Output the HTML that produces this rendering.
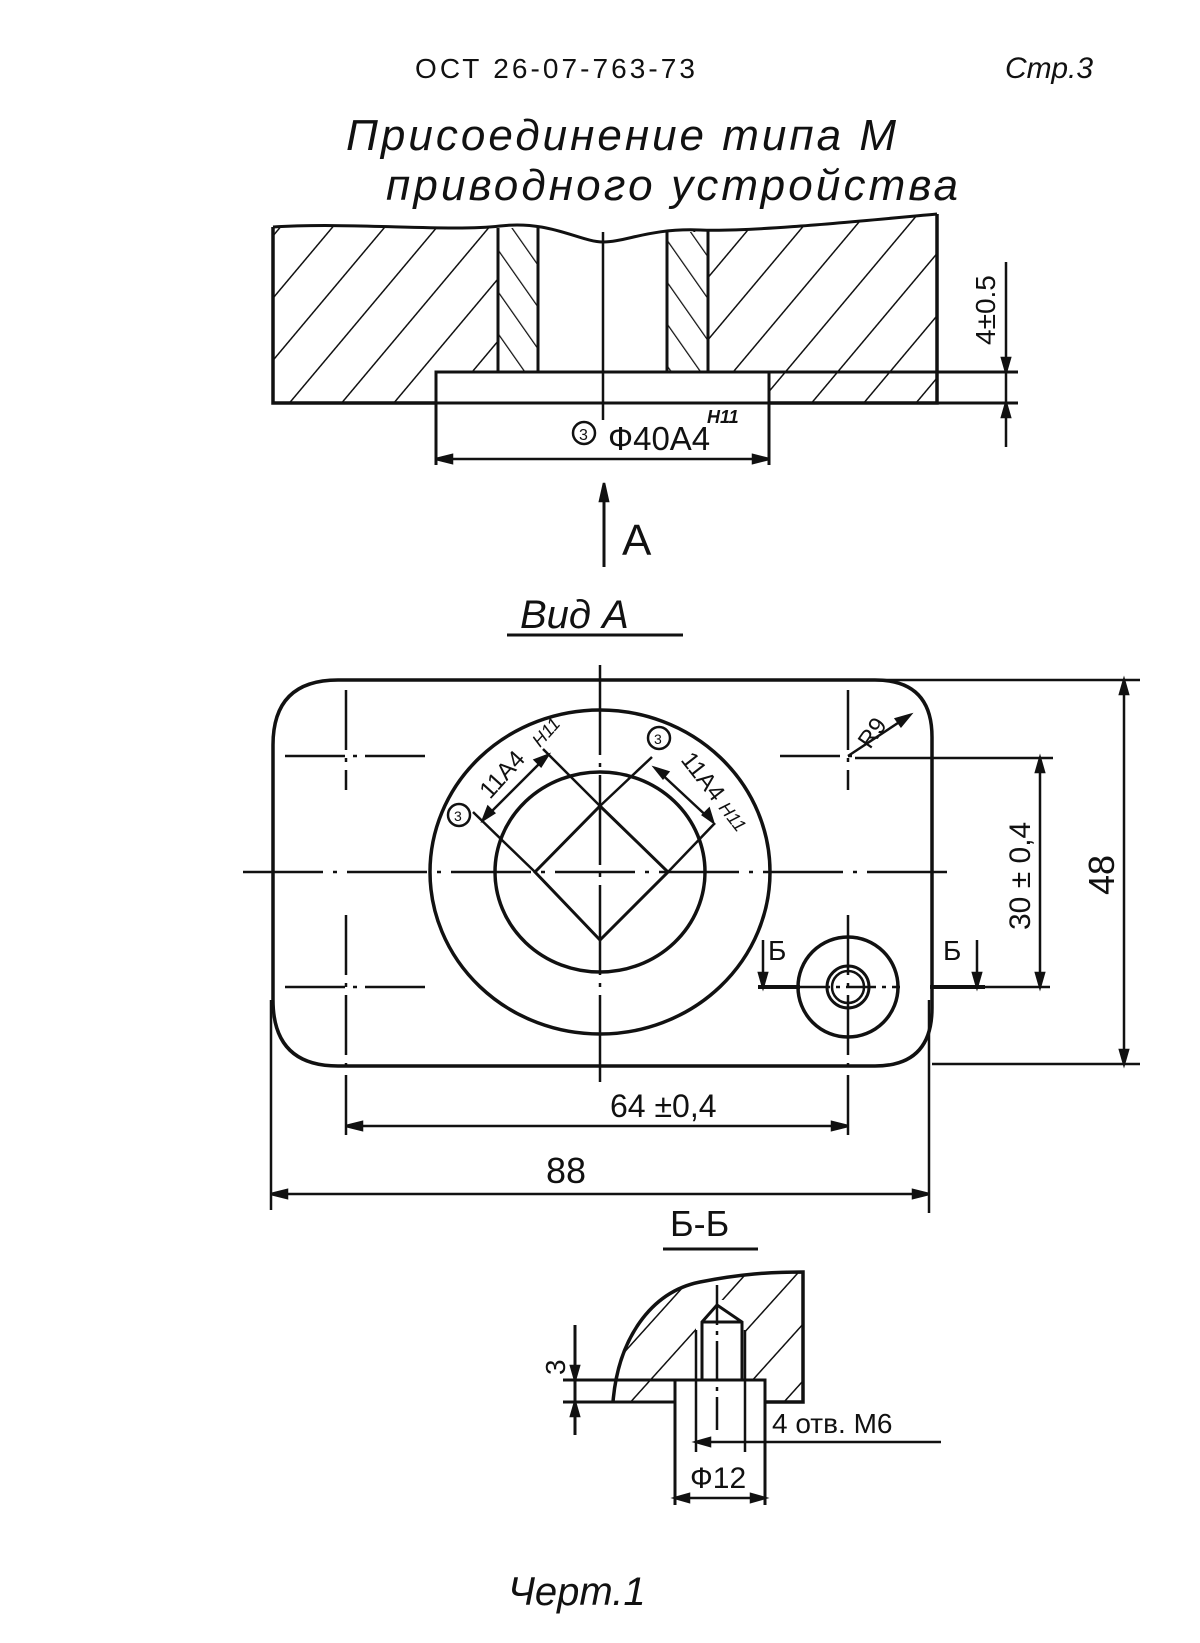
<!DOCTYPE html>
<html><head><meta charset="utf-8"><style>
html,body{margin:0;padding:0;background:#fff;}
svg{display:block}
text{font-family:"Liberation Sans","DejaVu Sans",sans-serif;fill:#111}
</style></head><body>
<svg width="1200" height="1643" viewBox="0 0 1200 1643" xmlns="http://www.w3.org/2000/svg">
<defs>
<pattern id="h1" width="40" height="40" patternUnits="userSpaceOnUse" patternTransform="rotate(40)"><line x1="0" y1="0" x2="0" y2="40" stroke="#111" stroke-width="3"/></pattern>
<pattern id="h2" width="24" height="24" patternUnits="userSpaceOnUse" patternTransform="rotate(-35)"><line x1="0" y1="0" x2="0" y2="24" stroke="#111" stroke-width="2.5"/></pattern>
<pattern id="h3" width="38" height="38" patternUnits="userSpaceOnUse" patternTransform="rotate(42)"><line x1="0" y1="0" x2="0" y2="38" stroke="#111" stroke-width="3"/></pattern>
</defs>
<g stroke="#111" fill="none" stroke-width="2.5">

<text x="415" y="78" font-size="28" stroke="none" fill="#111" textLength="280">ОСТ 26-07-763-73</text>
<text x="1005" y="78" font-size="30" stroke="none" fill="#111" font-style="italic">Стр.3</text>
<text x="346" y="150" font-size="44" stroke="none" fill="#111" font-style="italic" textLength="550">Присоединение типа М</text>
<text x="386" y="200" font-size="44" stroke="none" fill="#111" font-style="italic" textLength="572">приводного устройства</text>

<path d="M273,227 C350,222 450,232 500,226 S580,242 603,242 S650,228 700,230 S850,222 937,214 L937,403 L273,403 Z" fill="url(#h1)" stroke="none"/>
<rect x="498" y="228" width="40" height="144" fill="#fff" stroke="none"/>
<rect x="498" y="228" width="40" height="144" fill="url(#h2)" stroke="none"/>
<rect x="667" y="232" width="41" height="140" fill="#fff" stroke="none"/>
<rect x="667" y="232" width="41" height="140" fill="url(#h2)" stroke="none"/>
<rect x="538" y="226" width="129" height="146" fill="#fff" stroke="none"/>
<rect x="436" y="372" width="333" height="31" fill="#fff" stroke="none"/>
<path d="M273,227 C350,222 450,232 500,226 S580,242 603,242 S650,228 700,230 S850,222 937,214" stroke-width="3"/>
<path d="M273,227 L273,403 L436,403 M769,403 L937,403 L937,214" stroke-width="3.5"/>
<path d="M498,228 V372 M538,227 V372 M667,232 V372 M708,231 V372" stroke-width="3"/>
<path d="M436,465 V372 H1018 M436,403 H1018 M769,372 V465" stroke-width="3"/>
<line x1="603" y1="232" x2="603" y2="420"/>
<line x1="1006" y1="262" x2="1006" y2="447"/>
<path d="M1006,372 l-4,-14 h8 z M1006,403 l-4,14 h8 z" fill="#111"/>
<text transform="translate(995,345) rotate(-90)" font-size="28" stroke="none" fill="#111">4±0.5</text>
<line x1="436" y1="459" x2="769" y2="459"/>
<path d="M436,459 l16,-4 v8 z M769,459 l-16,-4 v8 z" fill="#111"/>
<circle cx="584" cy="433" r="11"/>
<text x="579" y="440" font-size="16" stroke="none" fill="#111">3</text>
<text x="608" y="450" font-size="33" stroke="none" fill="#111">Ф40А4</text>
<text x="707" y="423" font-size="18" stroke="none" fill="#111" font-style="italic" font-weight="bold">H11</text>

<line x1="604" y1="485" x2="604" y2="567" stroke-width="3"/>
<path d="M604,483 l-4,18 h8 z" fill="#111"/>
<text x="622" y="555" font-size="44" stroke="none" fill="#111">A</text>
<text x="520" y="628" font-size="40" stroke="none" fill="#111" font-style="italic">Вид А</text>
<line x1="507" y1="635" x2="683" y2="635" stroke-width="3"/>

<path d="M338,680 H875 Q932,680 932,737 V1008 Q932,1066 875,1066 H338 Q273,1066 273,1000 V745 Q273,680 338,680 Z" stroke-width="3.5"/>
<ellipse cx="600" cy="872" rx="170" ry="162" stroke-width="3.5"/>
<ellipse cx="600" cy="872" rx="105" ry="100" stroke-width="3.5"/>
<path d="M600,806 L668,872 L600,940 L535,872 Z" stroke-width="3"/>
<line x1="600" y1="665" x2="600" y2="1082" stroke-dasharray="90,8,4,8"/>
<line x1="243" y1="872" x2="950" y2="872" stroke-dasharray="80,10,4,10"/>
<path d="M285,756 H430 M346,690 V790 M285,987 H430 M346,915 V1135 M780,756 H858 M848,690 V790 M848,915 V1135" stroke-dasharray="60,8,4,8"/>
<path d="M535,872 L473,812 M600,806 L543,749 M483,820 L548,755 M668,872 L715,823 M600,806 L652,757 M655,768 L713,822"/>
<path d="M483,820 l5,-13 l6,6 z M548,755 l-13,5 l6,6 z M655,768 l13,4 l-5,6 z M713,822 l-4,-13 l-6,6 z" fill="#111"/>
<circle cx="459" cy="815" r="11"/>
<text x="454" y="821" font-size="14" stroke="none" fill="#111">3</text>
<text transform="translate(490,800) rotate(-48)" font-size="24" stroke="none" fill="#111">11А4</text>
<text transform="translate(540,748) rotate(-48)" font-size="18" stroke="none" fill="#111" font-style="italic">H11</text>
<circle cx="659" cy="738" r="11"/>
<text x="654" y="744" font-size="14" stroke="none" fill="#111">3</text>
<text transform="translate(680,760) rotate(52)" font-size="24" stroke="none" fill="#111">11А4</text>
<text transform="translate(718,808) rotate(52)" font-size="18" stroke="none" fill="#111" font-style="italic">H11</text>
<line x1="848" y1="756" x2="910" y2="715"/>
<path d="M910,715 l-14,4 l5,7 z" fill="#111"/>
<text transform="translate(870,750) rotate(-55)" font-size="24" stroke="none" fill="#111">R9</text>
<circle cx="848" cy="987" r="50" stroke-width="3.5"/>
<circle cx="848" cy="987" r="21" stroke-width="3"/>
<circle cx="848" cy="987" r="16"/>
<path d="M758,987 H800 M930,987 H985" stroke-width="4"/>
<path d="M800,987 H900" stroke-dasharray="30,6,4,6"/>
<path d="M763,940 V985 M977,940 V985"/>
<path d="M763,987 l-4,-14 h8 z M977,987 l-4,-14 h8 z" fill="#111"/>
<text x="768" y="960" font-size="28" stroke="none" fill="#111">Б</text>
<text x="943" y="960" font-size="28" stroke="none" fill="#111">Б</text>
<path d="M855,758 H1053 M985,987 H1050 M1040,758 V987"/>
<path d="M1040,758 l-4,14 h8 z M1040,987 l-4,-14 h8 z" fill="#111"/>
<text transform="translate(1030,930) rotate(-90)" font-size="30" stroke="none" fill="#111">30 ± 0,4</text>
<path d="M877,680 H1140 M932,1064 H1140 M1124,680 V1064"/>
<path d="M1124,680 l-4,14 h8 z M1124,1064 l-4,-14 h8 z" fill="#111"/>
<text transform="translate(1114,895) rotate(-90)" font-size="36" stroke="none" fill="#111">48</text>
<line x1="346" y1="1126" x2="848" y2="1126"/>
<path d="M346,1126 l16,-4 v8 z M848,1126 l-16,-4 v8 z" fill="#111"/>
<text x="610" y="1117" font-size="32" stroke="none" fill="#111">64 ±0,4</text>
<path d="M271,1000 V1210 M929,1000 V1213 M271,1194 H929"/>
<path d="M271,1194 l16,-4 v8 z M929,1194 l-16,-4 v8 z" fill="#111"/>
<text x="546" y="1183" font-size="36" stroke="none" fill="#111">88</text>
<text x="670" y="1236" font-size="36" stroke="none" fill="#111">Б-Б</text>
<line x1="663" y1="1249" x2="758" y2="1249" stroke-width="3"/>

<path d="M613,1402 C618,1340 650,1292 700,1282 C740,1274 770,1272 803,1272 V1402 Z" fill="url(#h3)" stroke="none"/>
<rect x="696" y="1300" width="49" height="81" fill="#fff" stroke="none"/>
<rect x="675" y="1380" width="90" height="23" fill="#fff" stroke="none"/>
<path d="M613,1402 C618,1340 650,1292 700,1282 C740,1274 770,1272 803,1272 V1402 H765" stroke-width="3.5"/>
<path d="M563,1380 H765 V1505 M563,1402 H675 M675,1380 V1505" stroke-width="3"/>
<path d="M702,1380 V1322 L717,1305 L742,1322 V1380 M702,1322 H742" stroke-width="3"/>
<path d="M696,1330 V1452 M745,1330 V1452"/>
<line x1="717" y1="1285" x2="717" y2="1430" stroke-dasharray="40,6,4,6"/>
<line x1="575" y1="1325" x2="575" y2="1435" stroke-width="3"/>
<path d="M575,1380 l-4,-14 h8 z M575,1402 l-4,14 h8 z" fill="#111"/>
<text transform="translate(565,1375) rotate(-90)" font-size="28" stroke="none" fill="#111">3</text>
<line x1="696" y1="1442" x2="941" y2="1442"/>
<path d="M696,1442 l14,-4 v8 z" fill="#111"/>
<text x="772" y="1433" font-size="28" stroke="none" fill="#111">4 отв. М6</text>
<text x="690" y="1488" font-size="30" stroke="none" fill="#111">Ф12</text>
<line x1="675" y1="1498" x2="765" y2="1498"/>
<path d="M675,1498 l14,-4 v8 z M765,1498 l-14,-4 v8 z" fill="#111"/>
<text x="508" y="1605" font-size="40" stroke="none" fill="#111" font-style="italic">Черт.1</text>
</g>
</svg>
</body></html>
